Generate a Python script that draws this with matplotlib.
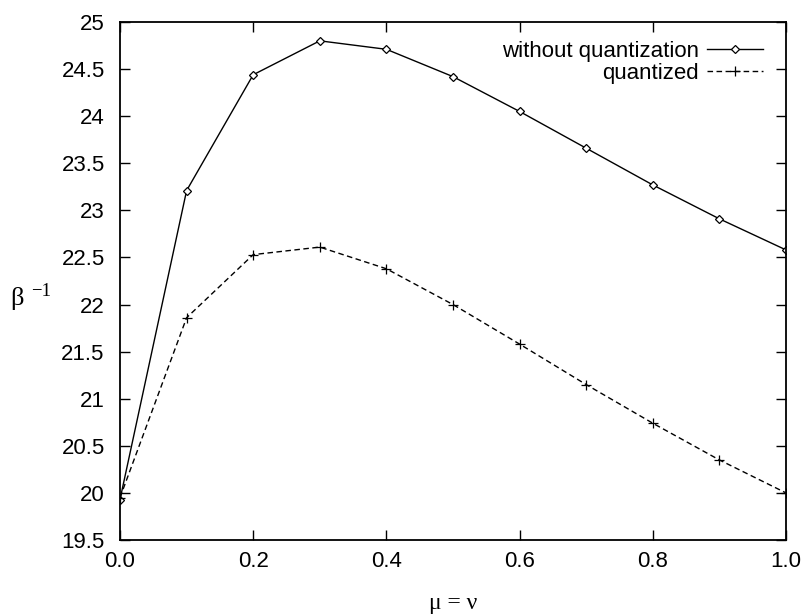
import matplotlib
matplotlib.use("Agg")
import matplotlib.pyplot as plt

# valeurs
mu = [0.0, 0.1, 0.2, 0.3, 0.4, 0.5, 0.6, 0.7, 0.8, 0.9, 1.0]
sans_quant = [19.93, 23.21, 24.44, 24.80, 24.71, 24.42, 24.05, 23.66, 23.27, 22.91, 22.58]
quant = [19.95, 21.86, 22.53, 22.61, 22.38, 22.00, 21.58, 21.15, 20.74, 20.35, 20.00]

xticks = [0.0, 0.2, 0.4, 0.6, 0.8, 1.0]
xtick_labels = ["0.0", "0.2", "0.4", "0.6", "0.8", "1.0"]
yticks = [19.5, 20, 20.5, 21, 21.5, 22, 22.5, 23, 23.5, 24, 24.5, 25]
ytick_labels = ["19.5", "20", "20.5", "21", "21.5", "22", "22.5", "23", "23.5", "24", "24.5", "25"]

plt.rcParams['font.family'] = ['Liberation Sans', 'DejaVu Sans']

fig = plt.figure(figsize=(8.04, 6.15), dpi=100)
ax = fig.add_axes([120 / 804, 1 - 540 / 615, 666 / 804, 518 / 615])

ax.plot(mu, sans_quant, color='black', lw=1.0, marker='D', markersize=4.5,
        markerfacecolor='white', markeredgecolor='black', markeredgewidth=0.9,
        label='without quantization')
ax.plot(mu, quant, color='black', lw=1.0, ls=(0, (4, 2.5)), marker='+', markersize=7,
        markeredgewidth=0.9, label='quantized')

ax.set_xlim(0, 1)
ax.set_ylim(19.5, 25)
ax.set_xticks(xticks)
ax.set_xticklabels(xtick_labels)
ax.set_yticks(yticks)
ax.set_yticklabels(ytick_labels)
ax.tick_params(direction='in', top=True, right=True, length=7, width=1, labelsize=16)
ax.tick_params(axis='x', pad=8)
ax.tick_params(axis='y', pad=11)
for s in ax.spines.values():
    s.set_linewidth(1.3)

# titres des axes (police serif, lettres grecques droites)
fig.text(453 / 804, 1 - 604 / 615, 'μ = ν', family='Liberation Serif', fontsize=17,
         ha='center', va='center')
fig.text(10 / 804, 1 - 298 / 615, 'β', family='Liberation Serif', fontsize=19,
         ha='left', va='center')
fig.text(31 / 804, 1 - 291 / 615, '−1', family='Liberation Serif', fontsize=13.5,
         ha='left', va='center')

leg = ax.legend(loc='upper right', frameon=False, markerfirst=False, fontsize=16,
                handlelength=2.5, handletextpad=0.4, labelspacing=0.05,
                borderpad=0, borderaxespad=0,
                bbox_to_anchor=(763 / 804, 1 - 41 / 615), bbox_transform=fig.transFigure)

fig.savefig('out.png', dpi=100)
